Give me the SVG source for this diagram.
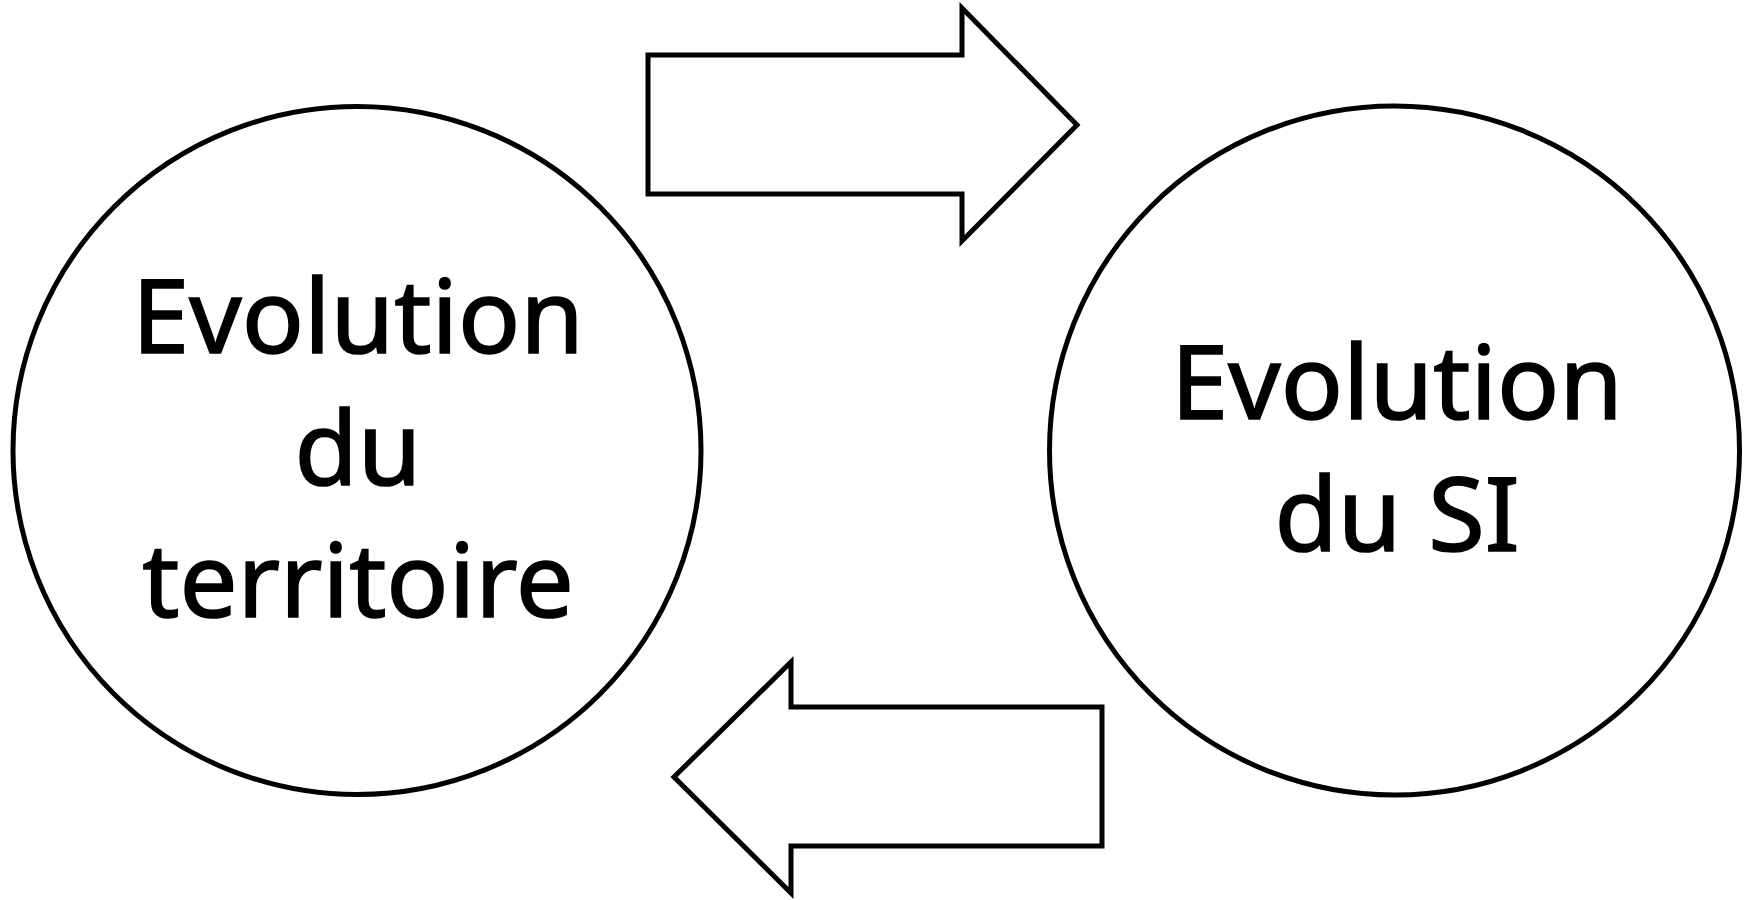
<svg xmlns="http://www.w3.org/2000/svg" width="1753" height="900" viewBox="0 0 1753 900">
  <style>
    .shape { fill: #ffffff; stroke: #000000; stroke-width: 5; stroke-linejoin: miter; }
    .label { font-family: "Noto Sans", "Open Sans", sans-serif; font-size: 103px; fill: #000000; stroke: #000000; stroke-width: 1.6; text-anchor: middle; }
  </style>
  <rect width="1753" height="900" fill="#ffffff"/>

  <!-- block arrows between the two circles -->
  <g id="connectors">
    <polygon id="arrow-right" class="shape" points="648,55 962,55 962,8 1077,125 962,241 962,194 648,194"/>
    <polygon id="arrow-left" class="shape" points="1102,707 791,707 791,662 674,777 791,893 791,846 1102,846"/>
  </g>

  <g id="node-territoire">
    <circle class="shape" cx="357" cy="450.5" r="344"/>
    <text class="label" x="358" y="353">Evolution</text>
    <text class="label" x="358" y="485">du</text>
    <text class="label" x="358" y="617">territoire</text>
  </g>

  <g id="node-si">
    <ellipse class="shape" cx="1394.5" cy="450.5" rx="345" ry="344.5"/>
    <text class="label" x="1397" y="419">Evolution</text>
    <text class="label" x="1397" y="551">du SI</text>
  </g>
</svg>
